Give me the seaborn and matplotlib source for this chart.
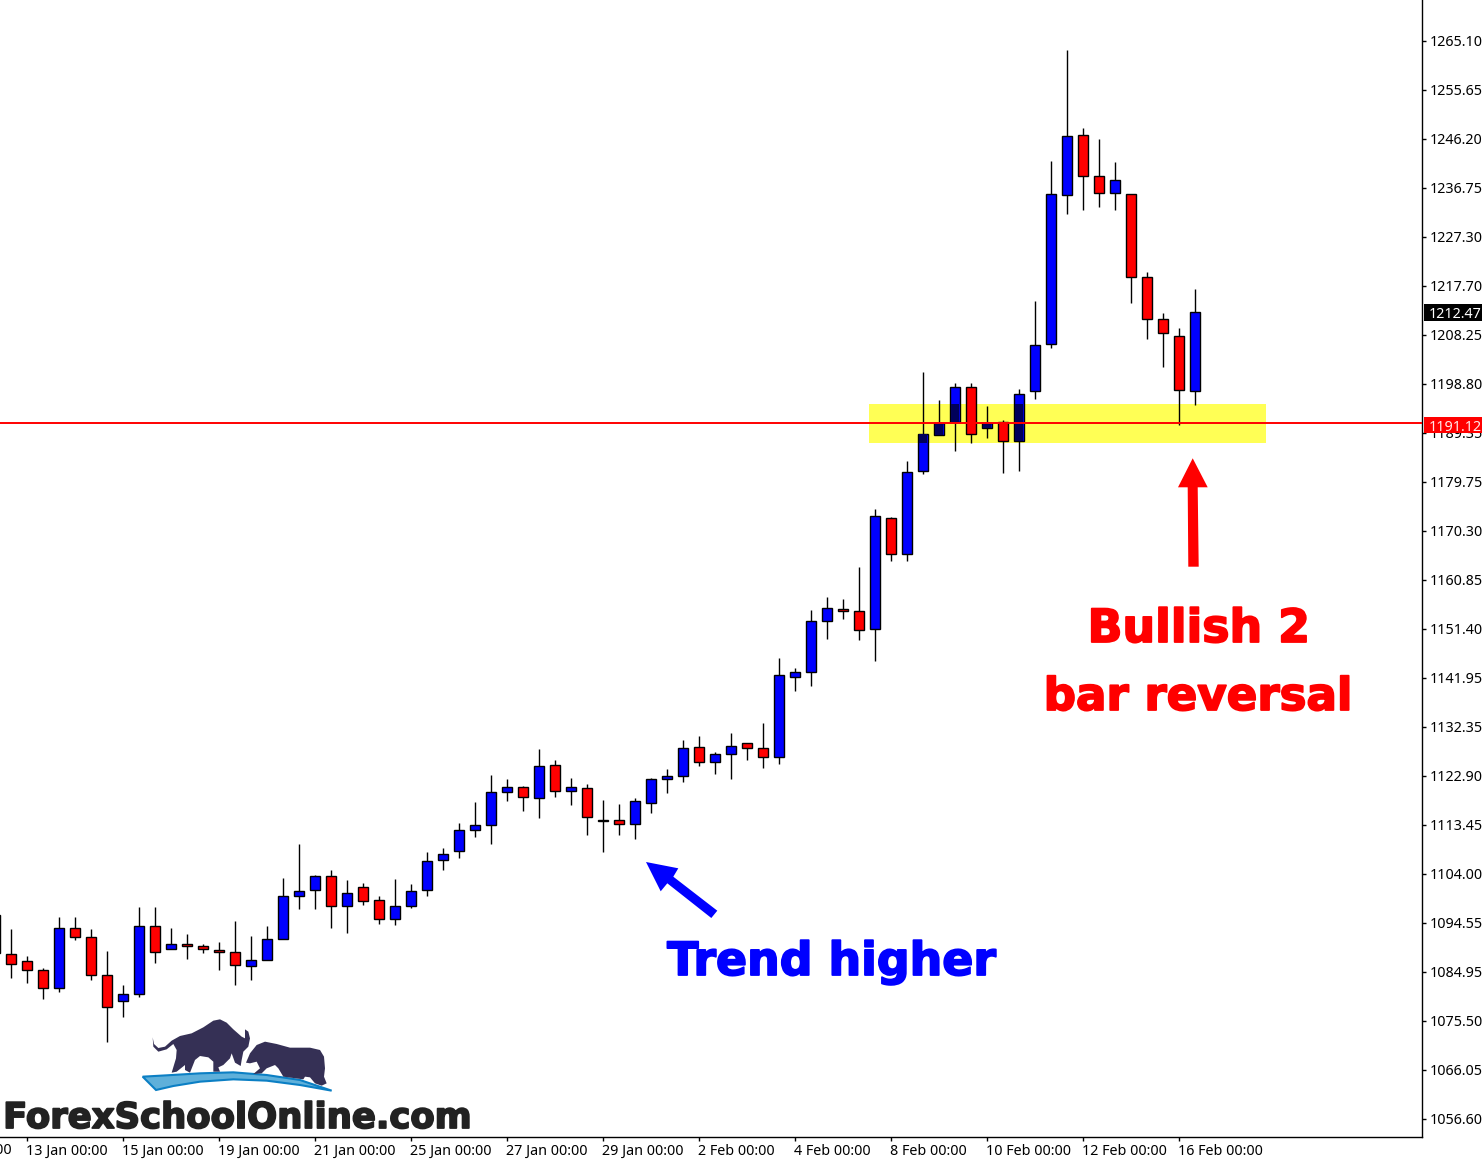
import numpy as np
import pandas as pd
import matplotlib
matplotlib.use("Agg")
import matplotlib.pyplot as plt
import matplotlib.patheffects as pe
from matplotlib.patches import Polygon, Rectangle
from matplotlib.transforms import Affine2D, ScaledTranslation
import seaborn as sns

# daily candles
bar_no = list(range(-1, 75))
opens = [1096.54, 1089.08, 1087.60, 1085.87, 1082.40, 1093.97, 1092.23, 1084.90, 1079.89, 1081.24,
         1094.35, 1089.92, 1090.88, 1090.50, 1089.72, 1089.34, 1086.64, 1087.80, 1091.85, 1100.14,
         1101.30, 1104.00, 1098.21, 1101.87, 1099.37, 1095.70, 1098.28, 1101.36, 1107.09, 1108.82,
         1112.87, 1113.84, 1120.20, 1121.17, 1119.04, 1125.41, 1120.39, 1120.97, 1114.80, 1114.80,
         1114.03, 1118.08, 1122.71, 1123.29, 1128.88, 1125.99, 1127.53, 1129.65, 1128.69, 1126.95,
         1142.38, 1143.35, 1153.18, 1155.49, 1155.11, 1151.64, 1173.04, 1166.10, 1182.11, 1189.05,
         1191.56, 1198.31, 1190.40, 1191.56, 1187.89, 1197.53, 1206.60, 1235.33, 1246.90, 1239.00,
         1235.72, 1235.53, 1219.52, 1211.42, 1208.14, 1197.53]
closes = [1089.15, 1087.02, 1085.87, 1082.40, 1093.97, 1092.23, 1084.90, 1078.73, 1081.24, 1094.35,
          1089.34, 1090.88, 1090.50, 1089.92, 1089.34, 1086.83, 1087.80, 1091.85, 1100.14, 1101.10,
          1104.00, 1098.21, 1100.72, 1099.17, 1095.70, 1098.21, 1101.17, 1107.05, 1108.24, 1112.87,
          1113.84, 1120.20, 1121.17, 1119.24, 1125.22, 1120.39, 1121.17, 1115.38, 1114.61, 1114.03,
          1118.47, 1122.71, 1123.29, 1128.69, 1125.99, 1127.53, 1129.07, 1128.69, 1126.95, 1142.77,
          1143.34, 1153.18, 1155.69, 1155.11, 1151.44, 1173.43, 1166.10, 1181.92, 1189.24, 1191.37,
          1198.31, 1189.24, 1191.37, 1187.89, 1196.96, 1206.53, 1235.53, 1246.71, 1239.00, 1235.72,
          1238.23, 1219.52, 1211.42, 1208.72, 1197.72, 1212.77]
highs = [1096.54, 1093.77, 1088.63, 1086.25, 1096.09, 1096.09, 1093.77, 1089.60, 1082.97, 1098.02,
         1098.02, 1093.97, 1092.81, 1090.88, 1091.27, 1095.32, 1092.42, 1094.35, 1103.61, 1110.17,
         1104.19, 1105.15, 1103.22, 1102.65, 1100.14, 1103.42, 1102.52, 1108.69, 1109.40, 1114.22,
         1118.27, 1123.48, 1122.71, 1121.36, 1128.49, 1126.37, 1122.90, 1121.74, 1118.66, 1117.89,
         1119.04, 1122.90, 1124.64, 1130.23, 1131.00, 1127.92, 1131.58, 1129.65, 1133.51, 1146.04,
         1144.12, 1155.30, 1157.81, 1157.42, 1163.59, 1174.78, 1173.24, 1184.04, 1201.20, 1195.80,
         1199.08, 1199.08, 1194.64, 1191.94, 1197.92, 1214.89, 1241.89, 1263.36, 1248.25, 1246.13,
         1241.70, 1235.53, 1220.48, 1212.57, 1209.68, 1217.20]
lows = [1089.15, 1084.45, 1083.49, 1080.40, 1081.75, 1091.72, 1084.07, 1072.11, 1076.93, 1080.79,
        1087.35, 1089.92, 1088.12, 1089.27, 1086.00, 1083.10, 1084.07, 1087.80, 1091.85, 1097.76,
        1097.76, 1094.10, 1093.13, 1098.53, 1094.87, 1094.67, 1097.89, 1100.20, 1105.22, 1107.54,
        1111.65, 1110.30, 1118.59, 1116.67, 1115.32, 1119.37, 1117.82, 1112.04, 1108.76, 1112.04,
        1111.27, 1116.15, 1120.14, 1122.26, 1125.34, 1123.80, 1122.84, 1126.50, 1124.96, 1125.73,
        1139.81, 1140.77, 1149.71, 1153.56, 1149.51, 1145.59, 1164.75, 1164.75, 1181.66, 1189.05,
        1186.09, 1187.64, 1188.60, 1181.85, 1182.24, 1196.12, 1205.95, 1231.80, 1232.57, 1233.15,
        1232.57, 1214.63, 1207.69, 1202.29, 1191.10, 1194.96]

price_labels = ["1265.10", "1255.65", "1246.20", "1236.75", "1227.30", "1217.70", "1208.25", "1198.80",
                "1189.35", "1179.75", "1170.30", "1160.85", "1151.40", "1141.95", "1132.35", "1122.90",
                "1113.45", "1104.00", "1094.55", "1084.95", "1075.50", "1066.05", "1056.60"]
date_ticks = [1, 7, 13, 19, 25, 31, 37, 43, 49, 55, 61, 67, 73]
date_labels = ["13 Jan 00:00", "15 Jan 00:00", "19 Jan 00:00", "21 Jan 00:00", "25 Jan 00:00",
               "27 Jan 00:00", "29 Jan 00:00", "2 Feb 00:00", "4 Feb 00:00", "8 Feb 00:00",
               "10 Feb 00:00", "12 Feb 00:00", "16 Feb 00:00"]

level_line = 1191.4
zone_low, zone_high = 1187.57, 1195.09
zone_left, zone_right = 53.62, 78.44

sns.set_theme(style="white")
plt.rcParams["font.family"] = ["Noto Sans", "DejaVu Sans"]

W, H = 1482, 1161
fig = plt.figure(figsize=(W / 100, H / 100), dpi=100, facecolor="white")
ax = fig.add_axes([0, (H - 1137) / H, 1422 / W, 1137 / H])
px = Affine2D().scale(1, -1).translate(0, H)  # picture pixels, y down

df = pd.DataFrame({"k": bar_no, "open": opens, "close": closes, "high": highs, "low": lows})
df["top"] = df[["open", "close"]].max(axis=1)
df["bot"] = df[["open", "close"]].min(axis=1)
df["body"] = df["top"] - df["bot"]

# yellow zone sits behind the candles
ax.add_patch(Rectangle((zone_left, zone_low), zone_right - zone_left, zone_high - zone_low,
                       facecolor="#FFFF55", edgecolor="none", zorder=0))
ax.vlines(df["k"], df["low"], df["high"], color="black", linewidth=1.0, zorder=1)

up = df[df["close"] >= df["open"]]
down = df[df["close"] < df["open"]]
for part, col in ((up, "#0000FF"), (down, "#FF0000")):
    sns.barplot(data=part, x="k", y="body", bottom=part["bot"].values, native_scale=True,
                color=col, saturation=1, width=0.6, edgecolor="black", linewidth=1.0,
                errorbar=None, ax=ax, zorder=2)

# blue bodies go navy where the yellow zone covers them
covered = up.copy()
covered["cov_top"] = covered["top"].clip(upper=zone_high)
covered["cov_bot"] = covered["bot"].clip(lower=zone_low)
covered = covered[covered["cov_top"] > covered["cov_bot"]]
covered = covered.assign(cov=covered["cov_top"] - covered["cov_bot"])
sns.barplot(data=covered, x="k", y="cov", bottom=covered["cov_bot"].values, native_scale=True,
            color="#00005A", saturation=1, width=0.54, linewidth=0, errorbar=None, ax=ax, zorder=3)

ax.axhline(level_line, color="#FF0000", linewidth=1.4, zorder=4)

ax.set_xlim(-0.6875, 88.1875)
ax.set_ylim(1053.73, 1273.01)
ax.set_xlabel("")
ax.set_ylabel("")
for s in ("left", "top"):
    ax.spines[s].set_visible(False)
for s in ("right", "bottom"):
    ax.spines[s].set_color("black")
    ax.spines[s].set_linewidth(1.0)

ax.yaxis.tick_right()
ax.set_yticks(1265.10 - 9.45 * np.arange(len(price_labels)))
ax.set_yticklabels(price_labels, fontsize=10.3, color="black")
ax.set_xticks(date_ticks)
ax.set_xticklabels(date_labels, fontsize=10.3, color="black", ha="left")
ax.tick_params(axis="y", which="major", right=True, length=3, width=1, pad=2.5, color="black")
ax.tick_params(axis="x", which="major", bottom=True, length=3, width=1, pad=2, color="black")
# nudge labels one pixel, as in the platform's own placement
for lab in ax.get_xticklabels():
    lab.set_transform(lab.get_transform() + ScaledTranslation(-1 / 100, 0, fig.dpi_scale_trans))
for lab in ax.get_yticklabels():
    lab.set_transform(lab.get_transform() + ScaledTranslation(0, 1 / 100, fig.dpi_scale_trans))
# label of the bar off the left edge, only its end shows
fig.text(12 / W, 1 - 1150 / H, "11 Jan 00:00", ha="right", va="center", fontsize=10.3, color="black")

# price boxes over the axis
for top, bot, col, txt, tcol in ((304, 321, "black", "1212.47", "white"),
                                 (417, 433, "#FF0000", "1191.12", "#FFE8E8")):
    fig.add_artist(Rectangle((1424, bot), 58, top - bot, transform=px, facecolor=col,
                             edgecolor="none", zorder=5))
    fig.text(1429 / W, 1 - (top + bot + 1) / 2 / H, txt, ha="left", va="center_baseline", fontsize=10.3,
             color=tcol, zorder=6)

# arrows
fig.add_artist(Polygon([(1192.7, 458.3), (1207.7, 487.3), (1197.7, 487.3), (1198.7, 566.7),
                        (1188.3, 566.7), (1187.7, 487.3), (1178, 487.3)],
                       transform=px, facecolor="#FF0000", edgecolor="none", zorder=5))
fig.add_artist(Polygon([(646, 862), (678.3, 868.3), (673.3, 876.7), (717.3, 910.7), (711.3, 918),
                        (667.3, 883.3), (660.7, 891.3)],
                       transform=px, facecolor="#0000FF", edgecolor="none", zorder=5))

# captions, stroked to get the heavy look
def caption(x, y, txt, col, size):
    t = fig.text(x / W, 1 - y / H, txt, color=col, fontsize=size, family="DejaVu Sans", fontweight="bold",
                 ha="center", va="baseline", zorder=6)
    t.set_path_effects([pe.withStroke(linewidth=1.3, foreground=col)])

caption(832, 975, "Trend higher", "#0000FF", 33)
caption(1199, 642, "Bullish 2", "#FF0000", 33)
caption(1198, 710, "bar reversal", "#FF0000", 32.5)

# logo, outlined from zoomed crops (x/3, 820+y/3)
def logo_pts(pts):
    return [(x / 3, 820 + y / 3) for x, y in pts]

swoosh = [(428, 770), (468, 810), (520, 798), (600, 785), (700, 778), (800, 782), (900, 795), (995, 812),
          (900, 780), (800, 765), (700, 757), (600, 760), (500, 766)]
bull = [(458, 652), (462, 672), (475, 684), (495, 680), (515, 662), (540, 648), (575, 640), (610, 622),
        (640, 602), (660, 598), (680, 608), (700, 628), (725, 650), (735, 655), (735, 628), (745, 635),
        (750, 655), (745, 680), (730, 695), (725, 720), (722, 738), (705, 728), (695, 700), (690, 715),
        (670, 735), (655, 742), (660, 755), (640, 755), (640, 725), (625, 712), (600, 708), (585, 720),
        (570, 758), (555, 750), (555, 735), (530, 755), (515, 758), (528, 715), (530, 690), (520, 672),
        (500, 688), (475, 695), (460, 680)]
bear = [(738, 728), (750, 700), (770, 675), (795, 665), (830, 672), (870, 683), (930, 683), (960, 690),
        (972, 710), (975, 745), (972, 770), (980, 790), (965, 797), (945, 790), (930, 772), (915, 770),
        (910, 778), (850, 770), (835, 745), (825, 735), (800, 745), (785, 760), (760, 762), (780, 745),
        (770, 725), (750, 730)]
fig.add_artist(Polygon(logo_pts(swoosh), transform=px, facecolor="#5FB0DA", edgecolor="#0B7FC4", linewidth=1.5, zorder=5))
fig.add_artist(Polygon(logo_pts(bull), transform=px, facecolor="#353055", edgecolor="none", zorder=5))
fig.add_artist(Polygon(logo_pts(bear), transform=px, facecolor="#353055", edgecolor="none", zorder=5))
logo = fig.text(237 / W, 1 - 1128 / H, "ForexSchoolOnline.com", color="#222222", fontsize=25.5,
                family="DejaVu Sans", fontweight="bold", ha="center", va="baseline", zorder=6)
logo.set_path_effects([pe.withStroke(linewidth=1.3, foreground="#222222")])

fig.savefig("out.png", dpi=100)
